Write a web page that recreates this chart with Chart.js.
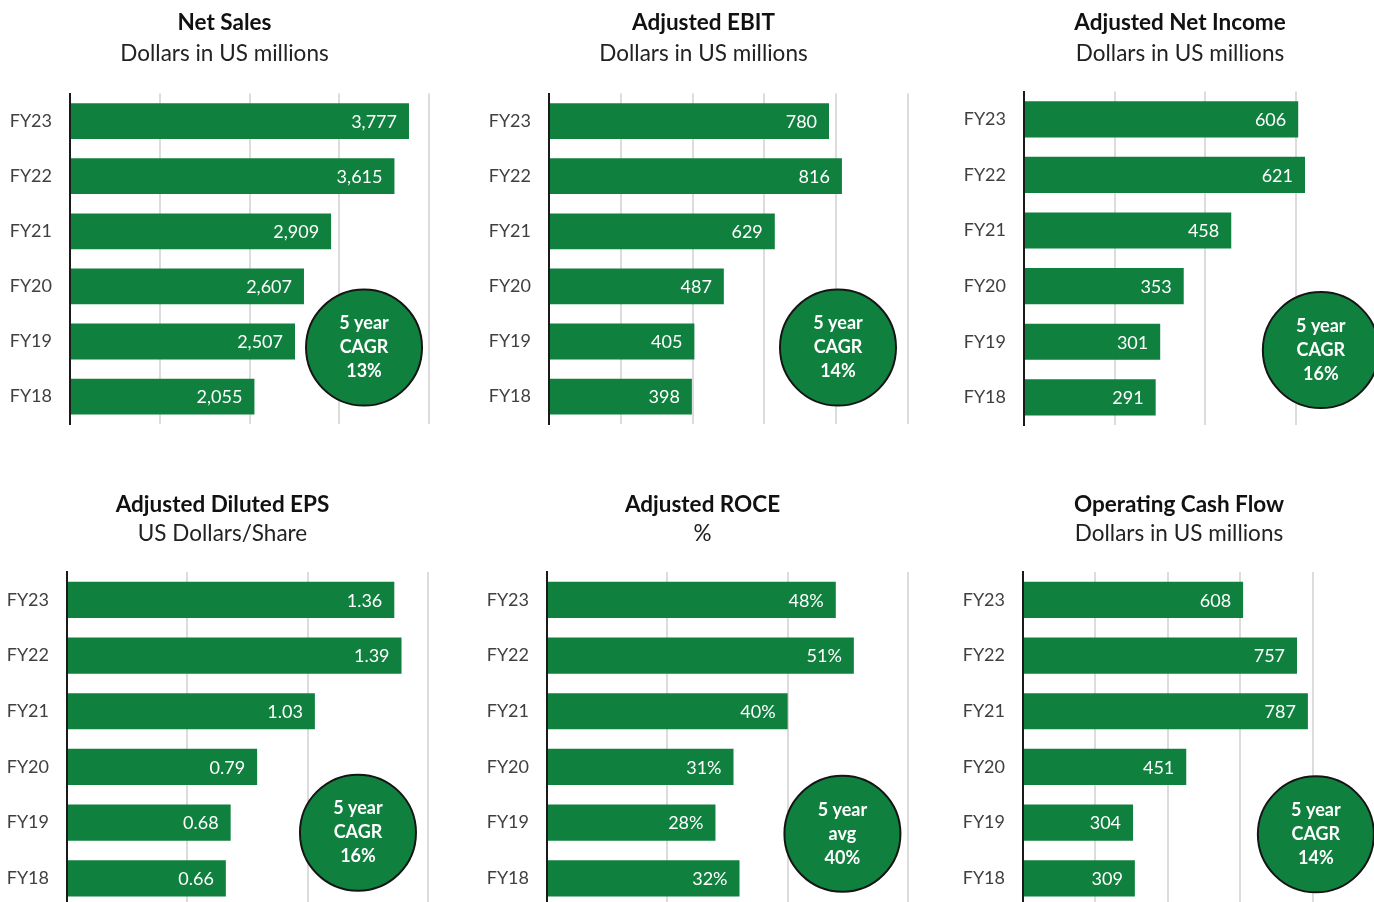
<!DOCTYPE html>
<html>
<head>
<meta charset="utf-8">
<script src="https://cdn.jsdelivr.net/npm/chart.js@4.4.1/dist/chart.umd.min.js"></script>
<style>
  html, body { margin: 0; padding: 0; background: #fff; }
  #wrap { position: relative; width: 1374px; height: 902px; overflow: hidden; background: #fff; }
  #wrap canvas { position: absolute; }
</style>
</head>
<body>
<div id="wrap"></div>
<script>
const years = ['FY23', 'FY22', 'FY21', 'FY20', 'FY19', 'FY18'];

const netSales = [3777, 3615, 2909, 2607, 2507, 2055];
const adjEbit = [780, 816, 629, 487, 405, 398];
const adjNetIncome = [606, 621, 458, 353, 301, 291];
const adjEps = [1.36, 1.39, 1.03, 0.79, 0.68, 0.66];
const adjRoce = [48, 51, 40, 31, 28, 32];
const opCashFlow = [608, 757, 787, 451, 304, 309];

const green = '#10803e';
const FONT = 'Lato';

// one entry per small chart
const panels = [
  { title: 'Net Sales', sub: 'Dollars in US millions', data: netSales, max: 4000, step: 1000,
    fmt: v => v.toLocaleString('en-US'), badge: ['5 year', 'CAGR', '13%'], bx: 3276, by: 4.11,
    left: 70, right: 429, top: 0, h: 435, pad: { t: 9.5, tb: 4, sb: 26 } },
  { title: 'Adjusted EBIT', sub: 'Dollars in US millions', data: adjEbit, max: 1000, step: 200,
    fmt: v => String(v), badge: ['5 year', 'CAGR', '14%'], bx: 805, by: 4.11,
    left: 549, right: 908, top: 0, h: 435, pad: { t: 9.5, tb: 4, sb: 26 } },
  { title: 'Adjusted Net Income', sub: 'Dollars in US millions', data: adjNetIncome, max: 800, step: 200,
    fmt: v => String(v), badge: ['5 year', 'CAGR', '16%'], bx: 656, by: 4.15,
    left: 1024, right: 1386, top: 0, h: 436, pad: { t: 9.5, tb: 4, sb: 24 } },
  { title: 'Adjusted Diluted EPS', sub: 'US Dollars/Share', data: adjEps, max: 1.5, step: 0.5,
    fmt: v => v.toFixed(2), badge: ['5 year', 'CAGR', '16%'], bx: 1.209, by: 4.18,
    left: 67, right: 428, top: 482, h: 435, pad: { t: 9.5, tb: 2, sb: 24.5 } },
  { title: 'Adjusted ROCE', sub: '%', data: adjRoce, max: 60, step: 20,
    fmt: v => v + '%', badge: ['5 year', 'avg', '40%'], bx: 49.1, by: 4.2,
    left: 547, right: 908, top: 482, h: 435, pad: { t: 9.5, tb: 2, sb: 24.5 } },
  { title: 'Operating Cash Flow', sub: 'Dollars in US millions', data: opCashFlow, max: 1000, step: 200,
    fmt: v => String(v), badge: ['5 year', 'CAGR', '14%'], bx: 809, by: 4.21,
    left: 1023, right: 1385, top: 482, h: 435, pad: { t: 9.5, tb: 2, sb: 24.5 } }
];

function makeOverlay(p) {
  return {
    id: 'overlay',
    afterDatasetsDraw(chart) {
      const ctx = chart.ctx;
      const meta = chart.getDatasetMeta(0);
      ctx.save();
      ctx.font = '18px ' + FONT;
      ctx.fillStyle = '#ffffff';
      ctx.textAlign = 'right';
      ctx.textBaseline = 'middle';
      meta.data.forEach((bar, i) => {
        ctx.fillText(p.fmt(p.data[i]), bar.x - 12, bar.y + 1);
      });

      // the round badge
      const cx = chart.scales.x.getPixelForValue(p.bx);
      const cy = chart.scales.y.getPixelForValue(p.by);
      ctx.beginPath();
      ctx.arc(cx, cy, 58, 0, Math.PI * 2);
      ctx.fillStyle = green;
      ctx.fill();
      ctx.lineWidth = 2;
      ctx.strokeStyle = '#151515';
      ctx.stroke();
      ctx.fillStyle = '#ffffff';
      ctx.textAlign = 'center';
      ctx.font = 'bold 18px ' + FONT;
      p.badge.forEach((line, k) => {
        ctx.fillText(line, cx, cy + (k - 1) * 24);
      });
      ctx.restore();
    }
  };
}

function build() {
  const wrap = document.getElementById('wrap');
  panels.forEach(p => {
    const canvas = document.createElement('canvas');
    canvas.width = p.right - p.left + 90;
    canvas.height = p.h;
    canvas.style.left = (p.left - 70) + 'px';
    canvas.style.top = p.top + 'px';
    wrap.appendChild(canvas);

    new Chart(canvas.getContext('2d'), {
      type: 'bar',
      data: {
        labels: years,
        datasets: [{
          data: p.data,
          backgroundColor: green,
          borderWidth: 0,
          barPercentage: 0.65,
          categoryPercentage: 1
        }]
      },
      options: {
        indexAxis: 'y',
        responsive: false,
        animation: false,
        layout: { padding: 0 },
        plugins: {
          legend: { display: false },
          tooltip: { enabled: false },
          title: {
            display: true,
            text: p.title,
            color: '#111111',
            font: { family: FONT, size: 22.5, weight: 'bold' },
            padding: { top: p.pad.t, bottom: p.pad.tb }
          },
          subtitle: {
            display: true,
            text: p.sub,
            color: '#222222',
            font: { family: FONT, size: 22.5 },
            padding: { top: 0, bottom: p.pad.sb }
          }
        },
        scales: {
          x: {
            min: 0,
            max: p.max,
            ticks: { display: false, stepSize: p.step },
            grid: { color: '#dcdcdc', lineWidth: 2, drawTicks: false },
            border: { display: false }
          },
          y: {
            grid: { display: true, color: 'rgba(0,0,0,0)', drawTicks: true, tickLength: 18 },
            border: { display: true, color: '#1a1a1a', width: 2 },
            ticks: { color: '#404040', padding: 0, font: { family: FONT, size: 18 } },
            afterFit: scale => { scale.width = 70; }
          },
          // empty strip on the right so the titles sit centred like the original
          yEdge: {
            type: 'category',
            axis: 'y',
            position: 'right',
            grid: { display: false },
            border: { display: false },
            ticks: { display: false },
            afterFit: scale => { scale.width = 20; }
          }
        }
      },
      plugins: [makeOverlay(p)]
    });
  });
}

Promise.all([
  document.fonts.load('18px ' + FONT),
  document.fonts.load('bold 18px ' + FONT)
]).then(build, build);
</script>
</body>
</html>
